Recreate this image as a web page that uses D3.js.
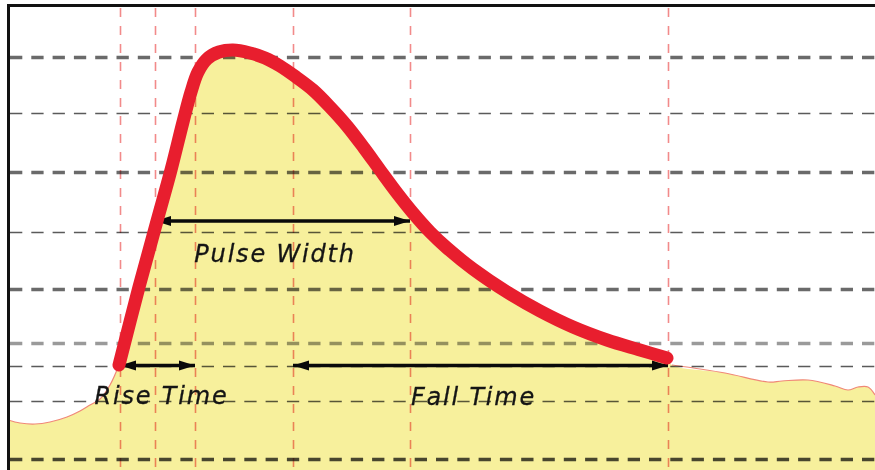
<!DOCTYPE html>
<html>
<head>
<meta charset="utf-8">
<script src="https://cdn.jsdelivr.net/npm/d3@7"></script>
<style>
  html, body { margin: 0; padding: 0; background: #ffffff; }
  svg { display: block; }
</style>
</head>
<body>
<svg id="chart" width="875" height="470"></svg>
<script>
// ---- data (time units, amplitude units) ----
const pulseTime  = [22.2, 26.2, 29.8, 32.6, 35.0, 36.6, 38.0, 39.8, 42.2, 45.0, 48.4, 51.4, 54.4, 57.6, 61.0, 64.4, 67.8, 71.2, 74.4, 77.8, 81.0, 84.4, 87.8, 93.0, 99.8, 106.4, 113.0, 119.8, 126.4, 131.8];
const pulseLevel = [21.0, 36.6, 49.8, 60.0, 69.6, 75.6, 79.6, 82.2, 83.6, 84.0, 83.4, 82.4, 80.8, 78.6, 76.0, 72.6, 68.8, 64.4, 60.0, 55.4, 51.4, 47.6, 44.4, 40.2, 35.6, 31.8, 28.6, 26.0, 24.0, 22.4];

const leadTime   = [0, 2.4, 5.4, 8.4, 11.8, 14.4, 16.4, 18.4, 20.4];
const leadLevel  = [10.0, 9.4, 9.2, 9.6, 10.6, 11.8, 13.0, 14.2, 17.0];

const tailTime   = [132.8, 143.4, 152.0, 154.8, 160.0, 165.4, 168.0, 170.0, 172.0, 173.4];
const tailLevel  = [21.0, 19.4, 17.6, 17.8, 18.0, 16.8, 16.0, 16.6, 16.6, 15.0];

const gridLevels = [82.6, 71.4, 59.6, 47.6, 36.2, 25.4, 20.8, 13.8, 2.2];
const gridKinds  = ["thick", "thin", "thick", "thin", "thick", "light", "thin", "thin", "dark"];

const markerTimes = [22.4, 29.4, 37.4, 57.0, 80.4, 132.0];

const arrowNames = ["Rise Time", "Pulse Width", "Fall Time"];
const arrowFrom  = [22.4, 29.4, 57.0];
const arrowTo    = [37.4, 80.4, 132.0];
const arrowLevel = [20.9, 49.8, 20.9];
const labelTime  = [30.7, 53.4, 93.1];
const labelLevel = [13.2, 41.6, 13.0];

// ---- scales ----
const W = 875, H = 470;
const x = d3.scaleLinear().domain([0, 173.4]).range([8, 875]);
const y = d3.scaleLinear().domain([0, 93]).range([470, 5]);
const smooth = d3.curveCatmullRom.alpha(0.5);

const svg = d3.select("#chart");
const defs = svg.append("defs");
["start", "end"].forEach(k => {
  defs.append("marker")
    .attr("id", "arr-" + k)
    .attr("markerUnits", "userSpaceOnUse")
    .attr("viewBox", "0 -6 16 12")
    .attr("refX", k === "end" ? 16 : 0)
    .attr("refY", 0)
    .attr("markerWidth", 16)
    .attr("markerHeight", 12)
    .attr("orient", "auto")
    .append("path")
    .attr("d", k === "end" ? "M0,-5L16,0L0,5Z" : "M16,-5L0,0L16,5Z")
    .attr("fill", "#0a0a0a");
});

const pulse = pulseTime.map((t, i) => [t, pulseLevel[i]]);
const lead  = leadTime.map((t, i) => [t, leadLevel[i]]);
const tail  = tailTime.map((t, i) => [t, tailLevel[i]]);

// ---- filled area under waveform ----
const outline = lead.concat(pulse, tail);
const area = d3.area()
  .x(d => x(d[0]))
  .y0(H)
  .y1(d => y(d[1]))
  .curve(smooth);
svg.append("path")
  .datum(outline)
  .attr("d", area)
  .attr("fill", "#f7f09c");

const edge = d3.line().x(d => x(d[0])).y(d => y(d[1])).curve(smooth);
svg.append("path")
  .datum(lead.concat([pulse[0]]))
  .attr("d", edge)
  .attr("fill", "none")
  .attr("stroke", "#f08878")
  .attr("stroke-width", 1.2);
svg.append("path")
  .datum(tail)
  .attr("d", edge)
  .attr("fill", "none")
  .attr("stroke", "#f08878")
  .attr("stroke-width", 1.2);

// ---- horizontal dashed grid ----
const gridStyle = {
  thick: { w: 3.5, c: "#6a6a6a" },
  thin:  { w: 1.6, c: "#5a5a5a" },
  light: { w: 3.5, c: "#9a9a9a" },
  dark:  { w: 3.5, c: "#4a4a4a" }
};
svg.append("g")
  .selectAll("line")
  .data(gridLevels.map((v, i) => ({ v, k: gridKinds[i] })))
  .join("line")
  .attr("x1", x(0) + 2)
  .attr("x2", W)
  .attr("y1", d => Math.round(y(d.v)) + 0.5)
  .attr("y2", d => Math.round(y(d.v)) + 0.5)
  .attr("stroke", d => gridStyle[d.k].c)
  .attr("stroke-width", d => gridStyle[d.k].w)
  .attr("stroke-dasharray", "12.3,9")
  .style("mix-blend-mode", "multiply");

// ---- vertical red dashed markers ----
svg.append("g")
  .selectAll("line")
  .data(markerTimes)
  .join("line")
  .attr("x1", d => Math.round(x(d)) + 0.5)
  .attr("x2", d => Math.round(x(d)) + 0.5)
  .attr("y1", y(93) + 3)
  .attr("y2", H)
  .attr("stroke", "#f28a8a")
  .attr("stroke-width", 1.6)
  .attr("stroke-dasharray", "9,9")
  .style("mix-blend-mode", "multiply");

// ---- measurement arrows ----
svg.append("g")
  .selectAll("line")
  .data(arrowNames.map((n, i) => ({ n, a: arrowFrom[i], b: arrowTo[i], v: arrowLevel[i] })))
  .join("line")
  .attr("x1", d => x(d.a))
  .attr("x2", d => x(d.b))
  .attr("y1", d => y(d.v))
  .attr("y2", d => y(d.v))
  .attr("stroke", "#0a0a0a")
  .attr("stroke-width", 3.5)
  .attr("marker-start", "url(#arr-start)")
  .attr("marker-end", "url(#arr-end)");

// ---- labels ----
svg.append("g")
  .selectAll("text")
  .data(arrowNames.map((n, i) => ({ n, t: labelTime[i], v: labelLevel[i] })))
  .join("text")
  .attr("x", d => x(d.t))
  .attr("y", d => y(d.v))
  .attr("text-anchor", "middle")
  .attr("font-family", "'DejaVu Sans', Verdana, sans-serif")
  .attr("font-style", "italic")
  .attr("font-size", 24)
  .attr("letter-spacing", 1.8)
  .attr("fill", "#151515")
  .attr("stroke", "#151515")
  .attr("stroke-width", 0.3)
  .text(d => d.n);

// ---- pulse waveform ----
const line = d3.line().x(d => x(d[0])).y(d => y(d[1])).curve(smooth);
svg.append("path")
  .datum(pulse)
  .attr("d", line)
  .attr("fill", "none")
  .attr("stroke", "#e81e2e")
  .attr("stroke-width", 13)
  .attr("stroke-linecap", "round")
  .attr("stroke-linejoin", "round");

// ---- frame (top and left) ----
svg.append("line")
  .attr("x1", x(0)).attr("x2", W)
  .attr("y1", y(93) + 0.5).attr("y2", y(93) + 0.5)
  .attr("stroke", "#111").attr("stroke-width", 3);
svg.append("line")
  .attr("x1", x(0) + 0.5).attr("x2", x(0) + 0.5)
  .attr("y1", y(93) - 1).attr("y2", H)
  .attr("stroke", "#111").attr("stroke-width", 3);
</script>
</body>
</html>
